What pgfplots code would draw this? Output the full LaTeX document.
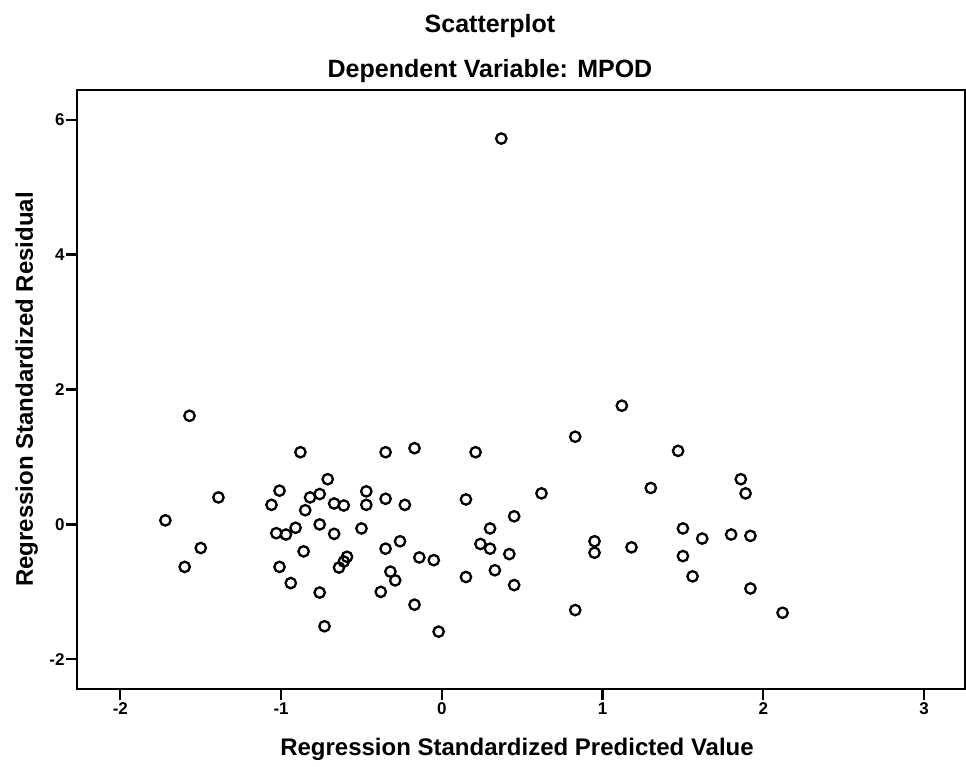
\documentclass[border=0pt]{standalone}
\usepackage{fontspec}
\setmainfont{Liberation Sans}
\usepackage{pgfplots}
\pgfplotsset{compat=1.18}
\pgfplotstableread{
x y
-1.57 1.61
-0.88 1.07
-0.35 1.07
-0.71 0.67
-1.39 0.40
-1.01 0.50
-0.82 0.40
-0.76 0.45
-0.47 0.49
-1.06 0.29
-0.67 0.31
-0.61 0.28
-0.47 0.29
-0.35 0.38
-0.85 0.21
-1.72 0.06
-0.76 0.00
-0.91 -0.05
-1.03 -0.13
-0.97 -0.15
-0.67 -0.14
-0.50 -0.06
-0.26 -0.25
-1.50 -0.35
-0.86 -0.40
-0.35 -0.36
-0.59 -0.48
-0.61 -0.55
-0.64 -0.64
-1.60 -0.63
-1.01 -0.63
-0.32 -0.70
-0.29 -0.83
-0.94 -0.87
-0.76 -1.01
-0.38 -1.00
-0.73 -1.51
-0.17 1.13
0.21 1.07
0.83 1.30
1.12 1.76
1.47 1.09
-0.23 0.29
0.15 0.37
0.62 0.46
1.30 0.54
1.86 0.67
1.89 0.46
0.45 0.12
0.30 -0.06
0.24 -0.29
0.30 -0.36
0.42 -0.44
0.95 -0.25
0.95 -0.42
1.18 -0.34
1.50 -0.06
1.62 -0.21
1.80 -0.15
1.92 -0.17
1.50 -0.47
-0.14 -0.49
-0.05 -0.53
0.15 -0.78
0.33 -0.68
0.45 -0.90
1.56 -0.77
1.92 -0.95
-0.17 -1.19
-0.02 -1.59
0.83 -1.27
2.12 -1.31
0.37 5.72
}\resid
\begin{document}
\begin{tikzpicture}
\path[use as bounding box] (0,0) rectangle (483pt,383.5pt);
\begin{axis}[
  name=ax,
  at={(38.5pt,39pt)}, anchor=south west,
  scale only axis, width=444pt, height=299.5pt,
  xmin=-2.27, xmax=3.255, ymin=-2.44, ymax=6.44,
  axis line style={line width=1.2pt, black},
  xtick={-2,-1,0,1,2,3}, xticklabels={-2,-1,0,1,2,3},
  ytick={-2,0,2,4,6}, yticklabels={-2,0,2,4,6},
  xtick pos=bottom, ytick pos=left,
  tick align=outside, major tick length=5.5pt,
  tick style={line width=1.1pt, black},
  tick label style={font=\bfseries\fontsize{8.5}{10}\selectfont},
  xticklabel style={inner sep=0pt, yshift=-1pt},
  yticklabel style={inner sep=0pt, xshift=-0.5pt},
  clip=false,
]
\addplot[only marks, mark=o, mark size=2.6pt, mark options={line width=1.15pt, black}] table {\resid};
\end{axis}
\node[font=\bfseries\fontsize{12.5}{15}\selectfont, anchor=base] at ([shift={(206.5pt,28.75pt)}]ax.north west) {Scatterplot};
\node[font=\bfseries\fontsize{12.5}{15}\selectfont, anchor=base] at ([shift={(206.5pt,6.25pt)}]ax.north west) {Dependent Variable: MPOD};
\node[font=\bfseries\fontsize{12}{14}\selectfont, anchor=base] at ([shift={(220pt,-33.5pt)}]ax.south west) {Regression Standardized Predicted Value};
\node[font=\bfseries\fontsize{12}{14}\selectfont, rotate=90, anchor=base] at ([shift={(-22pt,0pt)}]ax.west) {Regression Standardized Residual};
\end{tikzpicture}
\end{document}
